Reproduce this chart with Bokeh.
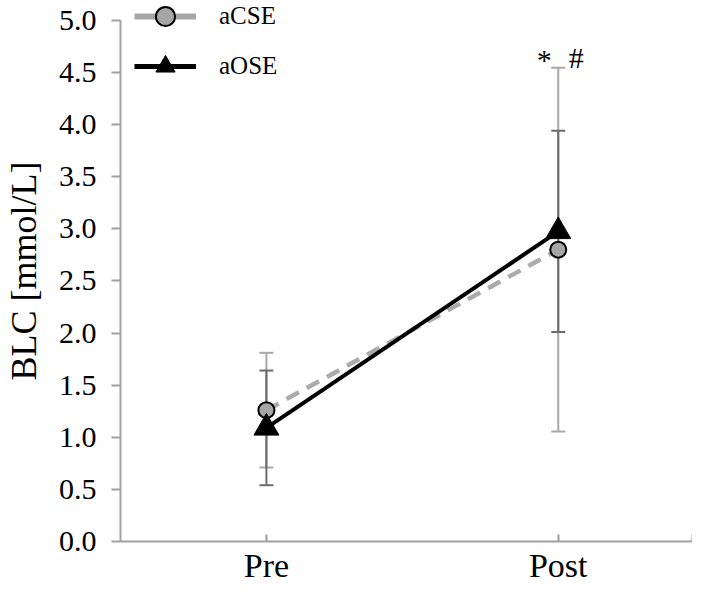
import math
from bokeh.plotting import figure
from bokeh.models import (Range1d, FixedTicker, Whisker, ColumnDataSource, Legend,
                          LegendItem, TeeHead, NumeralTickFormatter)
from bokeh.core.properties import value
from bokeh.embed import file_html
from bokeh.resources import INLINE

categories = ["Pre", "Post"]
acse_mean = [1.26, 2.80]
acse_sd = [0.55, 1.745]
aose_mean = [1.09, 2.975]
aose_sd = [0.55, 0.965]
sig_labels = ["*", "#"]
y_ticks = [0.0, 0.5, 1.0, 1.5, 2.0, 2.5, 3.0, 3.5, 4.0, 4.5, 5.0]

FONT = "Liberation Serif"
xpos = list(range(len(categories)))
X_END = 1.46

p = figure(width=692, height=586, output_backend="svg", toolbar_location=None,
           x_range=Range1d(-0.5, X_END), y_range=Range1d(0, 5.19),
           min_border_left=119, min_border_right=0, min_border_top=0, min_border_bottom=39)
p.outline_line_color = None
p.xgrid.visible = False
p.ygrid.visible = False
p.background_fill_color = "white"
p.border_fill_color = "white"

# x axis
p.xaxis.ticker = FixedTicker(ticks=xpos + [X_END])
p.xaxis.major_label_overrides = {i: c for i, c in enumerate(categories)} | {X_END: ""}
p.xaxis.minor_tick_line_color = None
p.xaxis.major_tick_in = 7
p.xaxis.major_tick_out = 0
p.xaxis.axis_line_color = "#a0a0a0"
p.xaxis.axis_line_width = 2
p.xaxis.major_tick_line_color = "#a0a0a0"
p.xaxis.major_tick_line_width = 2
p.xaxis.major_label_text_font = FONT
p.xaxis.major_label_text_font_size = "34px"
p.xaxis.major_label_text_color = "black"
p.xaxis.major_label_standoff = 5

# y axis
p.yaxis.ticker = FixedTicker(ticks=y_ticks)
p.yaxis.bounds = (0, 5)
p.yaxis.formatter = NumeralTickFormatter(format="0.0")
p.yaxis.minor_tick_line_color = None
p.yaxis.major_tick_in = 0
p.yaxis.major_tick_out = 9
p.yaxis.axis_line_color = "#a0a0a0"
p.yaxis.axis_line_width = 2
p.yaxis.major_tick_line_color = "#a0a0a0"
p.yaxis.major_tick_line_width = 2
p.yaxis.major_label_text_font = FONT
p.yaxis.major_label_text_font_size = "30px"
p.yaxis.major_label_text_color = "black"
p.yaxis.major_label_standoff = 15
p.yaxis.axis_label = "BLC [mmol/L]"
p.yaxis.axis_label_text_font = FONT
p.yaxis.axis_label_text_font_style = "normal"
p.yaxis.axis_label_text_font_size = "36px"
p.yaxis.axis_label_text_color = "black"
p.yaxis.axis_label_standoff = 12

# error bars
src_c = ColumnDataSource(dict(x=xpos, y=acse_mean,
                              lo=[m - s for m, s in zip(acse_mean, acse_sd)],
                              hi=[m + s for m, s in zip(acse_mean, acse_sd)]))
src_o = ColumnDataSource(dict(x=xpos, y=aose_mean,
                              lo=[m - s for m, s in zip(aose_mean, aose_sd)],
                              hi=[m + s for m, s in zip(aose_mean, aose_sd)]))

C_ERR = "#a8a8a8"
O_ERR = "#6a6a6a"
wc = Whisker(base="x", upper="hi", lower="lo", source=src_c, dimension="height",
             line_color=C_ERR, line_width=2,
             upper_head=TeeHead(size=14, line_color=C_ERR, line_width=2),
             lower_head=TeeHead(size=14, line_color=C_ERR, line_width=2))
wo = Whisker(base="x", upper="hi", lower="lo", source=src_o, dimension="height",
             line_color=O_ERR, line_width=2,
             upper_head=TeeHead(size=14, line_color=O_ERR, line_width=2),
             lower_head=TeeHead(size=14, line_color=O_ERR, line_width=2))
p.add_layout(wc)
p.add_layout(wo)

# series
p.line("x", "y", source=src_c, line_color="#ababab", line_width=4.5, line_dash="14 9")
p.scatter("x", "y", source=src_c, marker="circle", size=16, fill_color="#a6a6a6",
          line_color="black", line_width=2)
p.line("x", "y", source=src_o, line_color="black", line_width=4)
p.scatter("x", "y", source=src_o, marker="triangle", size=25, fill_color="black",
          line_color="black")

# significance labels above Post
post = xpos[1]
top = acse_mean[1] + acse_sd[1]
p.text(x=[post, post], y=[top, top], text=sig_labels,
       x_offset=[-14, 18], y_offset=[-8, -10],
       text_font=value(FONT), text_font_size="30px", text_align="center",
       text_baseline="alphabetic", text_color="black")

# legend proxies (not visible in plot area)
nan = [math.nan]
lc = p.line(x=nan, y=nan, line_color="#a6a6a6", line_width=6)
mc = p.scatter(x=nan, y=nan, marker="circle", size=14, fill_color="#a6a6a6",
               line_color="black", line_width=2)
lo_ = p.line(x=nan, y=nan, line_color="black", line_width=5)
mo = p.scatter(x=nan, y=nan, marker="triangle", size=22, fill_color="black",
               line_color="black")
legend = Legend(items=[LegendItem(label="aCSE", renderers=[lc, mc]),
                       LegendItem(label="aOSE", renderers=[lo_, mo])],
                location=(14, 451), orientation="vertical",
                glyph_width=62, glyph_height=48, label_height=48, spacing=2,
                padding=0, margin=0, label_standoff=23,
                label_text_font=FONT, label_text_font_size="25px",
                label_text_color="black",
                border_line_color=None, background_fill_alpha=0)
p.add_layout(legend)

open("out.html", "w").write(file_html(p, INLINE))
